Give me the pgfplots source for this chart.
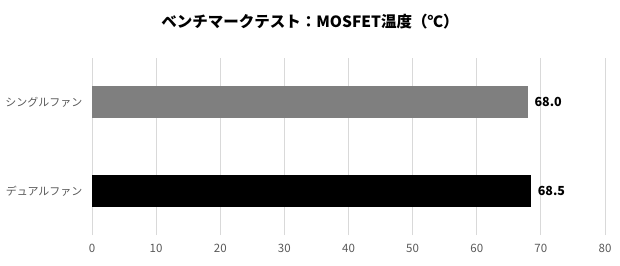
\documentclass[border=0pt]{standalone}
\usepackage{fontspec}
\setmainfont{Noto Sans CJK JP}
\usepackage{pgfplots}
\pgfplotsset{compat=1.18}
\definecolor{gridc}{HTML}{D9D9D9}
\definecolor{tickc}{HTML}{595959}
\definecolor{barg}{HTML}{7F7F7F}
\begin{document}
\begin{tikzpicture}
\begin{axis}[
 scale only axis, width=513pt, height=177pt,
 xbar, bar width=32pt,
 xmin=0, xmax=80, ymin=-0.5, ymax=1.5,
 xtick={0,10,...,80},
 ytick={0,1}, yticklabels={デュアルファン,シングルファン},
 axis line style={draw=none},
 major tick length=0pt,
 xmajorgrids, ymajorgrids=false, grid style={gridc, line width=0.8pt},
 tick label style={font=\fontsize{11}{12}\selectfont, text=tickc},
 xticklabel style={font=\fontsize{11.5}{12}\selectfont, yshift=-6pt},
 /pgf/number format/assume math mode=true,
 yticklabel style={xshift=-6pt},
 nodes near coords={\pgfmathprintnumber[fixed,fixed zerofill,precision=1]{\pgfplotspointmeta}},
 nodes near coords style={font=\bfseries\fontsize{12.5}{14}\selectfont, black, anchor=west, xshift=3pt},
 clip=false,
]
\addplot[fill=barg, draw=none, bar shift=0pt] coordinates {(68.0,1)};
\addplot[fill=black, draw=none, bar shift=0pt] coordinates {(68.5,0)};
\end{axis}
\node[font=\bfseries\fontsize{15.5}{18}\selectfont] at ([xshift=218pt,yshift=36pt]current axis.north west) {ベンチマークテスト：MOSFET温度（℃）};
\path[use as bounding box] ([xshift=-92pt,yshift=-30pt]current axis.south west) rectangle ([xshift=15pt,yshift=58pt]current axis.north east);
\end{tikzpicture}
\end{document}
